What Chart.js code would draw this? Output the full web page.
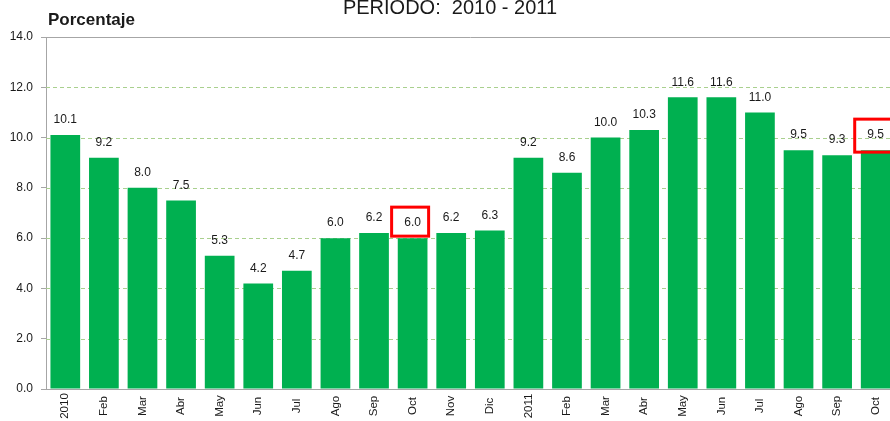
<!DOCTYPE html>
<html>
<head>
<meta charset="utf-8">
<script src="https://cdn.jsdelivr.net/npm/chart.js@4/dist/chart.umd.min.js"></script>
<style>
  html, body { margin: 0; padding: 0; background: #fff; overflow: hidden; }
  #wrap { position: absolute; left: 0; top: 0; width: 900px; height: 421px; }
</style>
</head>
<body>
<div id="wrap"><canvas id="chart"></canvas></div>
<script>
const months = ['2010','Feb','Mar','Abr','May','Jun','Jul','Ago','Sep','Oct','Nov','Dic',
                '2011','Feb','Mar','Abr','May','Jun','Jul','Ago','Sep','Oct'];
const porcentaje = [10.1, 9.2, 8.0, 7.5, 5.3, 4.2, 4.7, 6.0, 6.2, 6.0, 6.2, 6.3,
                    9.2, 8.6, 10.0, 10.3, 11.6, 11.6, 11.0, 9.5, 9.3, 9.5];
const highlighted = [9, 21];
const yTicks = [0, 2, 4, 6, 8, 10, 12, 14];

const FONT = 'Liberation Sans, Arial, sans-serif';
// red frames round the highlighted labels (relative to bar top / centre)
const frames = { 9: {dx: -21, w: 37, top: -31, h: 29}, 21: {dx: -21, w: 44, top: -31, h: 33} };

const decor = {
  id: 'decor',
  beforeDatasetsDraw(chart){
    const {ctx, chartArea: a, scales: {y}} = chart;
    ctx.save();
    ctx.lineWidth = 1;
    yTicks.forEach(v => {
      if(v === 0) return;
      const py = Math.round(y.getPixelForValue(v)) + 0.5;
      ctx.beginPath();
      if(v === 14){ ctx.setLineDash([]); ctx.strokeStyle = '#a6a6a6'; }
      else { ctx.setLineDash([4, 3]); ctx.strokeStyle = '#a9d08e'; }
      ctx.moveTo(a.left, py); ctx.lineTo(a.right, py); ctx.stroke();
    });
    ctx.restore();
  },
  afterDatasetsDraw(chart){
    const {ctx, chartArea: a, scales: {x}} = chart;
    const meta = chart.getDatasetMeta(0);
    ctx.save();
    ctx.fillStyle = '#1a1a1a';
    ctx.font = '12px ' + FONT;
    ctx.textAlign = 'center';
    ctx.textBaseline = 'middle';
    meta.data.forEach((bar, i) => {
      ctx.fillText(porcentaje[i].toFixed(1), bar.x, bar.y - 15);
      if(highlighted.includes(i)){
        const f = frames[i];
        ctx.strokeStyle = '#ff0000';
        ctx.lineWidth = 3;
        ctx.strokeRect(bar.x + f.dx, bar.y + f.top, f.w, f.h);
      }
    });
    // month labels, rotated and centred under the axis
    ctx.font = '11.5px ' + FONT;
    months.forEach((m, i) => {
      ctx.save();
      ctx.translate(x.getPixelForTick(i), a.bottom + 17);
      ctx.rotate(-Math.PI / 2);
      ctx.fillText(m, 0, 0);
      ctx.restore();
    });
    // title and axis caption
    ctx.textBaseline = 'alphabetic';
    ctx.font = '20px ' + FONT;
    ctx.fillText('PERIODO:  2010 - 2011', 450, 14);
    ctx.font = 'bold 17px ' + FONT;
    ctx.textAlign = 'left';
    ctx.fillText('Porcentaje', 48, 25);
    ctx.restore();
  }
};

new Chart(document.getElementById('chart').getContext('2d'), {
  type: 'bar',
  data: {
    labels: months,
    datasets: [{
      data: porcentaje,
      backgroundColor: '#00b050',
      barPercentage: 0.77,
      categoryPercentage: 1.0
    }]
  },
  options: {
    responsive: true,
    maintainAspectRatio: false,
    animation: false,
    layout: { padding: { top: 37, right: 5, left: 0, bottom: 0 } },
    plugins: { legend: { display: false }, tooltip: { enabled: false } },
    scales: {
      x: {
        grid: { display: false },
        border: { color: '#a6a6a6', width: 1 },
        ticks: { display: false },
        afterFit(scale){ scale.height = 32; }
      },
      y: {
        min: 0, max: 14,
        afterBuildTicks(scale){ scale.ticks = yTicks.map(v => ({value: v})); },
        grid: { drawOnChartArea: false, tickLength: 5, color: '#a6a6a6' },
        border: { color: '#a6a6a6', width: 1 },
        ticks: {
          color: '#1a1a1a',
          font: { family: FONT, size: 12 },
          padding: 8,
          callback: v => Number(v).toFixed(1)
        },
        afterFit(scale){ scale.width = 46; }
      }
    }
  },
  plugins: [decor]
});
</script>
</body>
</html>
